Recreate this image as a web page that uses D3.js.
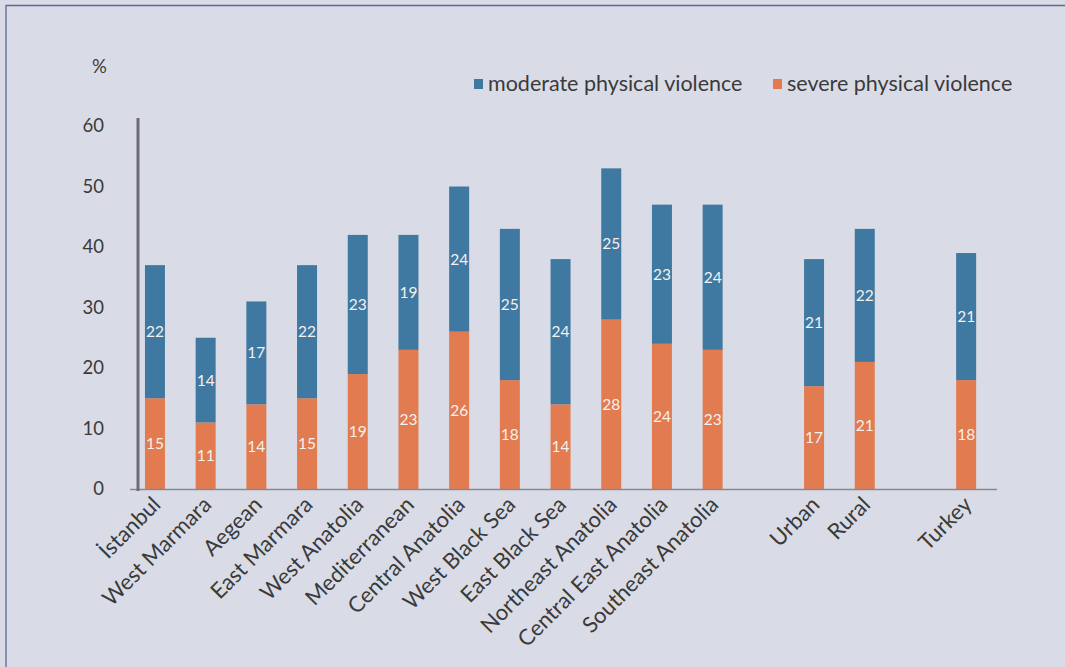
<!DOCTYPE html>
<html>
<head>
<meta charset="utf-8">
<script src="https://cdn.jsdelivr.net/npm/d3@7"></script>
<style>
  html, body { margin: 0; padding: 0; background: #d9dce6; }
  svg { display: block; }
  text { font-family: Lato, "Open Sans", sans-serif; fill: #3a3a3a; }
</style>
</head>
<body>
<svg id="chart" width="1065" height="667"></svg>
<script>
// Regions, then the urban/rural split, then the national total; blank slots keep the gaps.
const categories = ["İstanbul", "West Marmara", "Aegean", "East Marmara", "West Anatolia",
  "Mediterranean", "Central Anatolia", "West Black Sea", "East Black Sea", "Northeast Anatolia",
  "Central East Anatolia", "Southeast Anatolia", "gapA", "Urban", "Rural", "gapB", "Turkey"];
const gapSlots = ["gapA", "gapB"];
const severe =   [15, 11, 14, 15, 19, 23, 26, 18, 14, 28, 24, 23, null, 17, 21, null, 18];
const moderate = [22, 14, 17, 22, 23, 19, 24, 25, 24, 25, 23, 24, null, 21, 22, null, 21];
const yTicks = [0, 10, 20, 30, 40, 50, 60];
const seriesNames = ["moderate physical violence", "severe physical violence"];
const colors = { moderate: "#3f78a0", severe: "#e27b50" };

const svg = d3.select("#chart");

// outer frame (top and left edges)
svg.append("path")
  .attr("d", "M6,680 V5.5 H1080")
  .attr("fill", "none").attr("stroke", "#5a6a94").attr("stroke-width", 1.3);

const x = d3.scaleBand().domain(categories).range([129.6, 991.5]).paddingInner(0.6).paddingOuter(0.3);
const y = d3.scaleLinear().domain([0, 60]).range([489, 126]);

// y tick labels
svg.append("g").selectAll("text").data(yTicks).join("text")
  .attr("x", 104).attr("y", d => y(d)).attr("dy", "0.35em")
  .attr("text-anchor", "end").attr("font-size", 18.5).text(d => d);

svg.append("text").attr("x", 92).attr("y", 73).attr("font-size", 18.5).text("%");

const rows = categories.map((c, i) => ({ c, severe: severe[i], moderate: moderate[i] }))
  .filter(d => d.severe != null);

const bw = 20;
const g = svg.append("g");
// severe segment at the bottom
g.selectAll("rect.sev").data(rows).join("rect").attr("class", "sev")
  .attr("x", d => x(d.c) + x.bandwidth() / 2 - bw / 2).attr("width", bw)
  .attr("y", d => y(d.severe)).attr("height", d => y(0) - y(d.severe))
  .attr("fill", colors.severe);
// moderate segment stacked on top
g.selectAll("rect.mod").data(rows).join("rect").attr("class", "mod")
  .attr("x", d => x(d.c) + x.bandwidth() / 2 - bw / 2).attr("width", bw)
  .attr("y", d => y(d.severe + d.moderate)).attr("height", d => y(d.severe) - y(d.severe + d.moderate))
  .attr("fill", colors.moderate);

// value labels centred in each segment
g.selectAll("text.sevl").data(rows).join("text").attr("class", "sevl")
  .attr("x", d => x(d.c) + x.bandwidth() / 2).attr("y", d => y(d.severe / 2)).attr("dy", "0.35em")
  .attr("text-anchor", "middle").attr("font-size", 15.5).style("fill", "#f4f1ee").text(d => d.severe);
g.selectAll("text.modl").data(rows).join("text").attr("class", "modl")
  .attr("x", d => x(d.c) + x.bandwidth() / 2).attr("y", d => y(d.severe + d.moderate / 2)).attr("dy", "0.35em")
  .attr("text-anchor", "middle").attr("font-size", 15.5).style("fill", "#f4f1ee").text(d => d.moderate);

// axes lines
svg.append("line").attr("x1", 130).attr("x2", 997).attr("y1", 489.5).attr("y2", 489.5)
  .attr("stroke", "#8a8794").attr("stroke-width", 1.5);
svg.append("line").attr("x1", 138).attr("x2", 138).attr("y1", 118).attr("y2", 491)
  .attr("stroke", "#6e6a78").attr("stroke-width", 3);

// rotated category labels
svg.append("g").selectAll("text").data(categories.filter(c => !gapSlots.includes(c))).join("text")
  .attr("transform", c => `translate(${x(c) + x.bandwidth() / 2 + 7},${506}) rotate(-45)`)
  .attr("text-anchor", "end").attr("font-size", 22).text(c => c);

// legend
const legend = svg.append("g");
const lx = [474, 773];
seriesNames.forEach((name, i) => {
  legend.append("rect").attr("x", lx[i]).attr("y", 79).attr("width", 9).attr("height", 10)
    .attr("fill", i === 0 ? colors.moderate : colors.severe);
  legend.append("text").attr("x", lx[i] + 14).attr("y", 91).attr("font-size", 21.5).text(name);
});
</script>
</body>
</html>
